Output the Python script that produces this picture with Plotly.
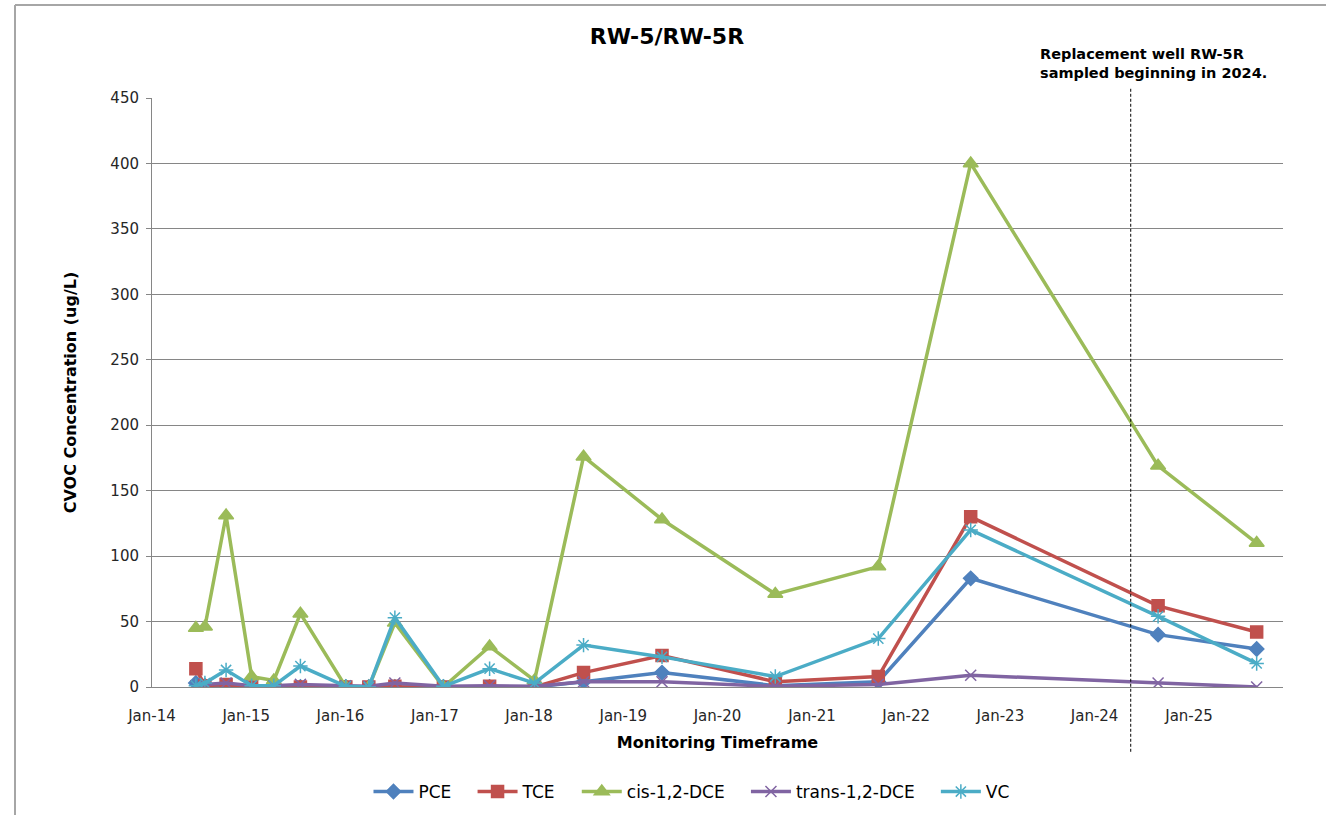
import plotly.graph_objects as go

# sampling dates
dates = ['2014-06-20', '2014-07-25', '2014-10-15', '2015-01-22', '2015-04-18',
         '2015-07-30', '2016-01-22', '2016-04-20', '2016-07-30', '2017-02-03',
         '2017-08-01', '2018-01-22', '2018-07-31', '2019-05-31', '2020-08-12',
         '2021-09-15', '2022-09-08', '2024-09-03', '2025-09-20']

pce = [3, 1, 0, 0, 0, 0, 0, 0, 0, 0, 0, 0, 4, 11, 1, 4, 83, 40, 29]
tce = [14, 1, 2, 0, 0, 0, 0, 0, 0.5, 0, 0.5, 0, 11, 24, 4, 8, 130, 62, 42]
cis_dce = [45, 46, 131, 8, 5, 56, 0, 0, 49, 0, 31, 5, 176, 128, 71, 92, 400, 169, 110]
trans_dce = [1, 2, 3, 1, 1, 2, 1, 0.5, 3, 0.5, 1, 0.5, 4, 4, 0.5, 2, 9, 3, 0]
vc = [1, 3, 13, 1, 1, 16, 0.5, 0, 53, 0.5, 14, 3, 32, 23, 8, 37, 120, 54, 18]

replacement_date = '2024-05-20'

FONT = "DejaVu Sans, sans-serif"
PAD = "\u00a0\u00a0\u00a0"  # extra room between legend entries

series = [
    ("PCE", pce, "#4F81BD", "diamond", 11, PAD),
    ("TCE", tce, "#C0504D", "square", 12, PAD),
    ("cis-1,2-DCE", cis_dce, "#9BBB59", "triangle-up", 13, PAD),
    ("trans-1,2-DCE", trans_dce, "#8064A2", "x-thin-open", 11, PAD),
    ("VC", vc, "#4BACC6", "asterisk-open", 12, ""),
]

fig = go.Figure()
for name, vals, color, sym, size, pad in series:
    fig.add_trace(go.Scatter(
        x=dates, y=vals, name=name + pad, mode="lines+markers",
        line=dict(color=color, width=3.5),
        marker=dict(symbol=sym, size=size, color=color,
                    line=dict(color=color, width=1.5)),
    ))

fig.update_layout(
    width=1326, height=815,
    margin=dict(l=152, r=43, t=98, b=128),
    paper_bgcolor="white", plot_bgcolor="white",
    font=dict(family=FONT, size=15, color="#000000"),
    title=dict(text="<b>RW-5/RW-5R</b>", x=0.503, xref="container", xanchor="center",
               y=0.955, yanchor="middle", font=dict(size=22), automargin=False),
    xaxis=dict(
        type="date", range=["2014-01-01", "2025-12-31"], automargin=False,
        tick0="2014-01-01", dtick="M12", tickformat="%b-%y",
        showgrid=False, showline=True, linecolor="#868686", linewidth=1,
        ticks="", ticklabelstandoff=15, tickfont=dict(size=15, color="#262626"),
        title=dict(text="<b>Monitoring Timeframe</b>", font=dict(size=16), standoff=12),
    ),
    yaxis=dict(
        range=[0, 450], dtick=50, showgrid=True, gridcolor="#868686", gridwidth=1,
        showline=True, linecolor="#868686", linewidth=1, automargin=False,
        ticks="outside", ticklen=5, tickcolor="#868686", ticklabelstandoff=4,
        tickfont=dict(size=15, color="#262626"),
        title=dict(text="<b>CVOC Concentration (ug/L)</b>", font=dict(size=16), standoff=29),
        zeroline=False,
    ),
    legend=dict(orientation="h", x=0.477, xanchor="center",
                yref="container", y=(815 - 792) / 815, yanchor="middle",
                font=dict(size=17), itemwidth=40, tracegroupgap=0),
    showlegend=True,
)

# dashed line marking replacement well
fig.add_shape(type="line", xref="x", yref="paper",
              x0=replacement_date, x1=replacement_date, y0=-0.11, y1=1.017,
              line=dict(color="black", width=1, dash="3px,2px"))

fig.add_annotation(text="<b>Replacement well RW-5R<br>sampled beginning in 2024.</b>",
                   xref="paper", yref="paper", x=(1038 - 152) / 1131, y=(687 - 63) / 589,
                   xanchor="left", yanchor="middle", align="left", showarrow=False,
                   font=dict(size=14.5))

# chart area border (top and left only visible)
fig.add_shape(type="line", xref="paper", yref="paper",
              x0=(15 - 152) / 1131, x1=(1326 - 152) / 1131,
              y0=(687 - 5) / 589, y1=(687 - 5) / 589,
              line=dict(color="#a6a6a6", width=2))
fig.add_shape(type="line", xref="paper", yref="paper",
              x0=(15 - 152) / 1131, x1=(15 - 152) / 1131,
              y0=(687 - 5) / 589, y1=(687 - 815) / 589,
              line=dict(color="#a6a6a6", width=2))

# drop the default page margin so the figure sits at the window's corner
fig.write_html("out.html", config={"displayModeBar": False},
               post_script="document.body.style.margin='0';")
